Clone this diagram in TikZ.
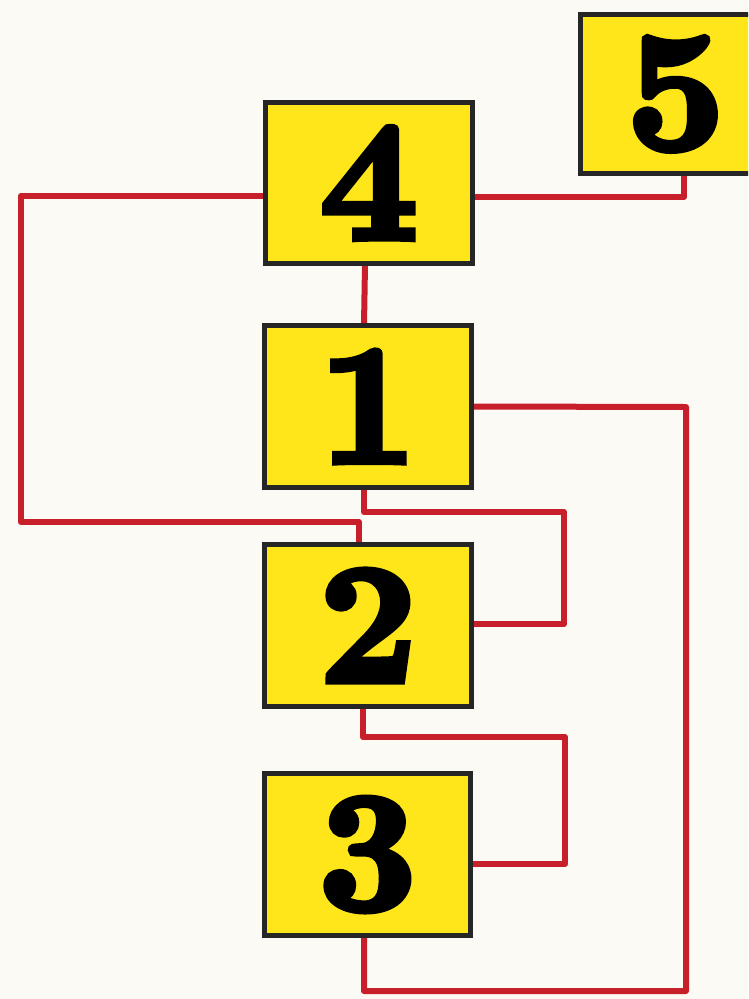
\documentclass[tikz,border=0pt]{standalone}
\usepackage{fontspec}
\newfontfamily\digitfont{lmroman10-bold.otf}[FakeBold=4]
\definecolor{bgc}{HTML}{FCFAF5}
\definecolor{boxyellow}{HTML}{FFE61A}
\definecolor{wirered}{HTML}{C8202A}
\tikzset{
  numbox/.style={draw=black!85, line width=3.4pt, fill=boxyellow, inner sep=0pt,
    minimum width=205pt, minimum height=160pt,
    font=\digitfont\fontsize{170}{170}\selectfont},
  wire/.style={draw=wirered, line width=6pt, line join=round}
}
\begin{document}
\begin{tikzpicture}[x=1pt,y=-1pt]
\useasboundingbox (0,0) rectangle (748,999);
\fill[bgc] (0,0) rectangle (748,999);
\clip (0,0) rectangle (748,999);
% boxes
\node[numbox] (n4) at (369,183) {4};
\node[numbox] (n1) at (368,406.5) {1};
\node[numbox] (n2) at (368,625.5) {2};
\node[numbox] (n3) at (367.5,854.5) {3};
\node[numbox, minimum width=189pt, minimum height=157pt] (n5) at (675.5,94) {5};
% connectors
\coordinate (a1) at (21,196);
\coordinate (a2) at (21,522);
\coordinate (a3) at (359,522);
\draw[wire] ([yshift=-13pt]n4.west) -- (a1) -- (a2) -- (a3) -- (a3 |- n2.north);
\coordinate (b1) at (684,197);
\draw[wire] ([yshift=-14pt]n4.east) -- (b1) -- (b1 |- n5.south);
\draw[wire] ([xshift=-4pt]n4.south) -- ([xshift=-4pt]n1.north);
\coordinate (c1) at (686,407);
\coordinate (c2) at (686,991);
\coordinate (c3) at (364,991);
\draw[wire] (n1.east) -- (c1) -- (c2) -- (c3) -- (c3 |- n3.south);
\coordinate (e1) at (364,512);
\coordinate (e2) at (564,512);
\coordinate (e3) at (564,624);
\draw[wire] (e1 |- n1.south) -- (e1) -- (e2) -- (e3) -- (e3 -| n2.east);
\coordinate (f1) at (363,737);
\coordinate (f2) at (565,737);
\coordinate (f3) at (565,864);
\draw[wire] (f1 |- n2.south) -- (f1) -- (f2) -- (f3) -- (f3 -| n3.east);
% redraw box borders over wire ends
\foreach \n in {n4,n1,n2,n3,n5} \draw[draw=black!85, line width=3.4pt] (\n.north west) rectangle (\n.south east);
\end{tikzpicture}
\end{document}
